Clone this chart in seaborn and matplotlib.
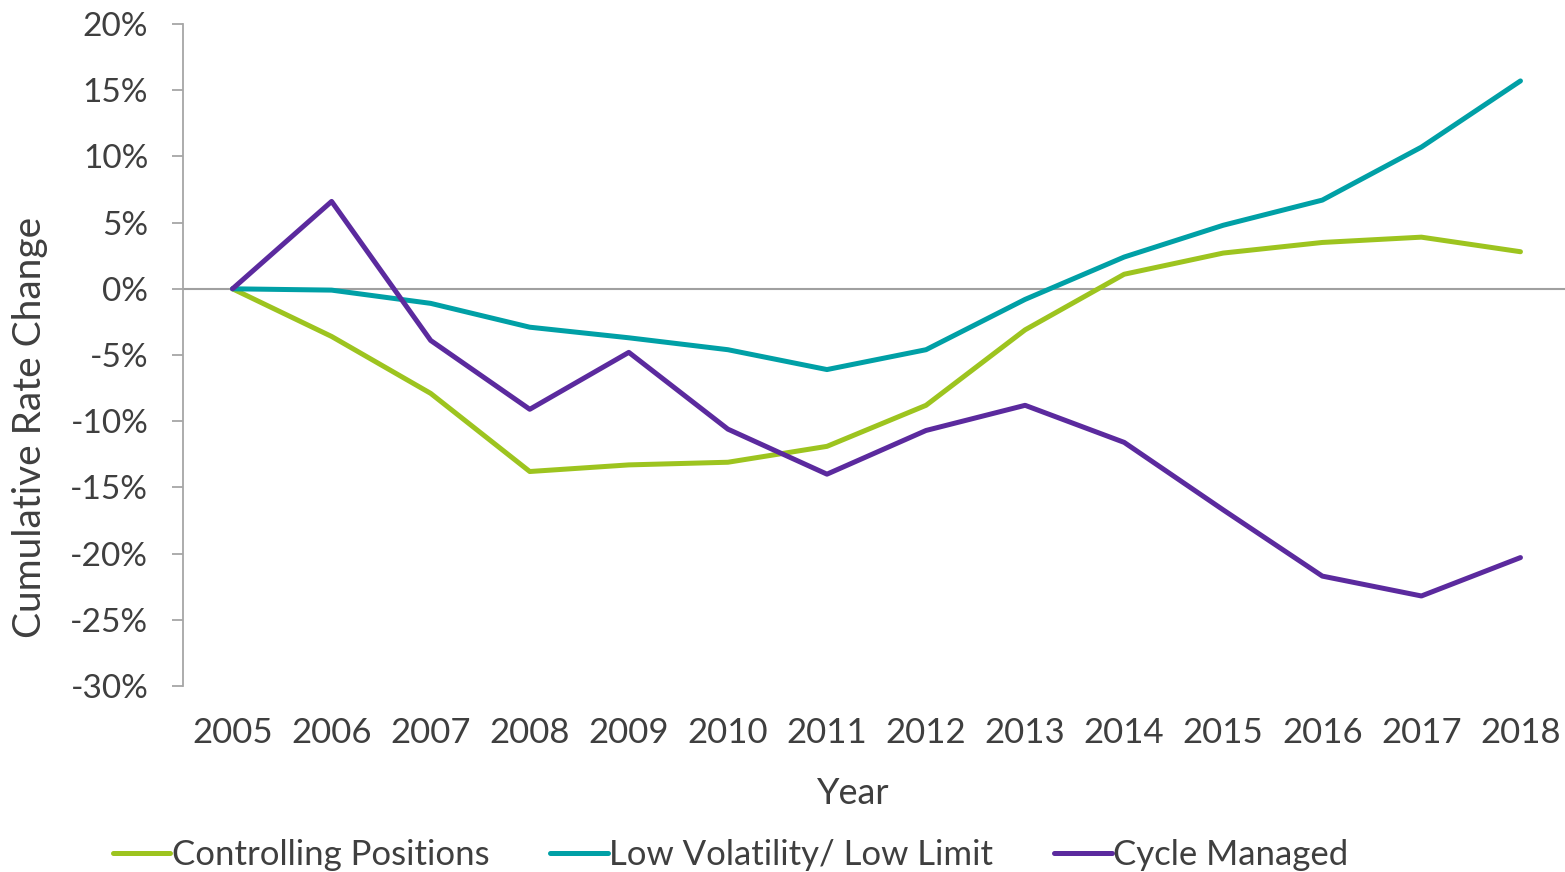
"""Cumulative rate change by program type, 2005-2018."""

import matplotlib.pyplot as plt
import matplotlib.ticker as mticker
import pandas as pd
import seaborn as sns

years = [str(y) for y in range(2005, 2019)]
controlling_positions = [0.0, -3.6, -7.9, -13.8, -13.3, -13.1, -11.9, -8.8, -3.1, 1.1, 2.7, 3.5, 3.9, 2.8]
low_volatility = [0.0, -0.1, -1.1, -2.9, -3.7, -4.6, -6.1, -4.6, -0.8, 2.4, 4.8, 6.7, 10.7, 15.7]
cycle_managed = [0.0, 6.6, -3.9, -9.1, -4.8, -10.6, -14.0, -10.7, -8.8, -11.6, -16.7, -21.7, -23.2, -20.3]

series_names = ["Controlling Positions", "Low Volatility/ Low Limit", "Cycle Managed"]
colors = ["#9DC41F", "#00A0A6", "#5B2A9E"]
TEXT = "#3F3F3F"

frames = []
for name, values in zip(series_names, [controlling_positions, low_volatility, cycle_managed]):
    frames.append(pd.DataFrame({"Year": years, "Change": values, "Series": name}))
data = pd.concat(frames, ignore_index=True)

sns.set_theme(style="white")
plt.rcParams["font.family"] = ["Lato", "DejaVu Sans"]

fig = plt.figure(figsize=(15.65, 8.72), dpi=100)
ax = fig.add_axes([183 / 1565, 1 - 686 / 872, (1570 - 183) / 1565, (686 - 24) / 872])

sns.lineplot(
    data=data,
    x="Year",
    y="Change",
    hue="Series",
    palette=dict(zip(series_names, colors)),
    linewidth=3.6,
    sort=False,
    ax=ax,
    legend=True,
)

ax.axhline(0, color="#A0A0A0", linewidth=1.5, zorder=0)
ax.set_xlim(-0.5, len(years) - 0.5)
ax.set_ylim(-30, 20)
ax.yaxis.set_major_locator(mticker.MultipleLocator(5))
ax.yaxis.set_major_formatter(mticker.FuncFormatter(lambda v, _: f"{v:.0f}%"))

for side in ["top", "right", "bottom"]:
    ax.spines[side].set_visible(False)
ax.spines["left"].set_color("#A6A6A6")
ax.spines["left"].set_linewidth(1.3)
ax.tick_params(axis="y", which="major", left=True, length=8, width=1.3, color="#A6A6A6",
               labelsize=24, labelcolor=TEXT, pad=17)
ax.tick_params(axis="x", bottom=False, labelsize=25, labelcolor=TEXT, pad=16)

ax.set_xlabel("Year", fontsize=26, color=TEXT)
ax.set_ylabel("Cumulative Rate Change", fontsize=28, color=TEXT)
ax.xaxis.set_label_coords(0.483, -0.138)
ax.yaxis.set_label_coords(-0.097, 0.39)

handles, labels = ax.get_legend_handles_labels()
ax.get_legend().remove()
fig.legend(
    handles,
    labels,
    loc="center left",
    bbox_to_anchor=(113 / 1565, 1 - 855 / 872),
    ncol=3,
    frameon=False,
    fontsize=25,
    labelcolor=TEXT,
    handlelength=1.65,
    handletextpad=0.05,
    columnspacing=1.75,
    borderaxespad=0,
    borderpad=0,
)

fig.savefig("out.png", dpi=100)
